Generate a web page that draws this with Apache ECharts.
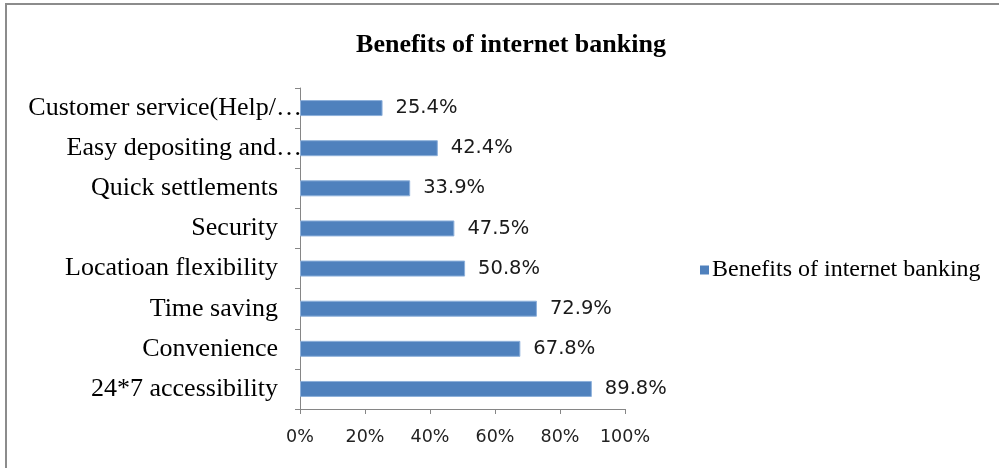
<!DOCTYPE html>
<html>
<head>
<meta charset="utf-8">
<script src="https://cdn.jsdelivr.net/npm/echarts@6/dist/echarts.min.js"></script>
<style>
  html, body { margin: 0; padding: 0; background: #fff; }
  #chart { width: 999px; height: 468px; }
</style>
</head>
<body>
<div id="chart"></div>
<script>
// categories listed bottom to top, as the category axis draws them
const categories = [
  '24*7 accessibility',
  'Convenience',
  'Time saving',
  'Locatioan flexibility',
  'Security',
  'Quick settlements',
  'Easy depositing and…',
  'Customer service(Help/…'
]
const shares = [89.8, 67.8, 72.9, 50.8, 47.5, 33.9, 42.4, 25.4]
const seriesName = 'Benefits of internet banking'

// truncated labels run up to the axis line, like the original
const categoryItems = categories.map(c => c.endsWith('…')
  ? { value: c, textStyle: { padding: [0, -24, 0, 0] } }
  : c)

const chart = echarts.init(document.getElementById('chart'))
chart.setOption({
  animation: false,
  title: {
    text: 'Benefits of internet banking',
    left: 506,
    top: 27,
    textAlign: 'center',
    textStyle: {
      fontFamily: 'Liberation Serif',
      fontWeight: 'bold',
      fontSize: 26,
      color: '#000'
    }
  },
  legend: {
    data: [seriesName],
    left: 695,
    top: 253,
    icon: 'rect',
    itemWidth: 9,
    itemHeight: 9,
    itemGap: 4,
    itemStyle: { borderWidth: 0 },
    textStyle: {
      fontFamily: 'Liberation Serif',
      fontSize: 24,
      color: '#000',
      padding: [0, 0, 0, -2]
    }
  },
  graphic: [
    // chart frame (top and left edges only are visible)
    { type: 'line', shape: { x1: 5, y1: 4, x2: 999, y2: 4 }, style: { stroke: '#8c8c8c', lineWidth: 2 } },
    { type: 'line', shape: { x1: 6, y1: 3, x2: 6, y2: 468 }, style: { stroke: '#8c8c8c', lineWidth: 2 } }
  ],
  grid: {
    left: 300,
    top: 88,
    width: 325,
    height: 321,
    containLabel: false
  },
  xAxis: {
    type: 'value',
    min: 0,
    max: 100,
    interval: 20,
    axisLine: { show: true, lineStyle: { color: '#868686', width: 1 } },
    axisTick: { show: true, length: 5, lineStyle: { color: '#868686' } },
    splitLine: { show: false },
    axisLabel: {
      margin: 19,
      fontFamily: 'DejaVu Sans',
      fontSize: 17.5,
      color: '#222',
      formatter: v => v + '%'
    }
  },
  yAxis: {
    type: 'category',
    data: categoryItems,
    axisLine: { show: true, lineStyle: { color: '#868686', width: 1 } },
    axisTick: { show: true, length: 5, lineStyle: { color: '#868686' } },
    axisLabel: {
      margin: 22,
      fontFamily: 'Liberation Serif',
      fontSize: 26,
      color: '#000'
    }
  },
  series: [
    {
      name: seriesName,
      type: 'bar',
      data: shares,
      barWidth: 16,
      itemStyle: {
        color: '#4F81BD',
        borderColor: '#8DB0DB',
        borderWidth: 1
      },
      label: {
        show: true,
        position: 'right',
        distance: 13,
        fontFamily: 'DejaVu Sans',
        fontSize: 19.5,
        color: '#1a1a1a',
        formatter: p => p.value.toFixed(1) + '%'
      }
    }
  ]
})
</script>
</body>
</html>
